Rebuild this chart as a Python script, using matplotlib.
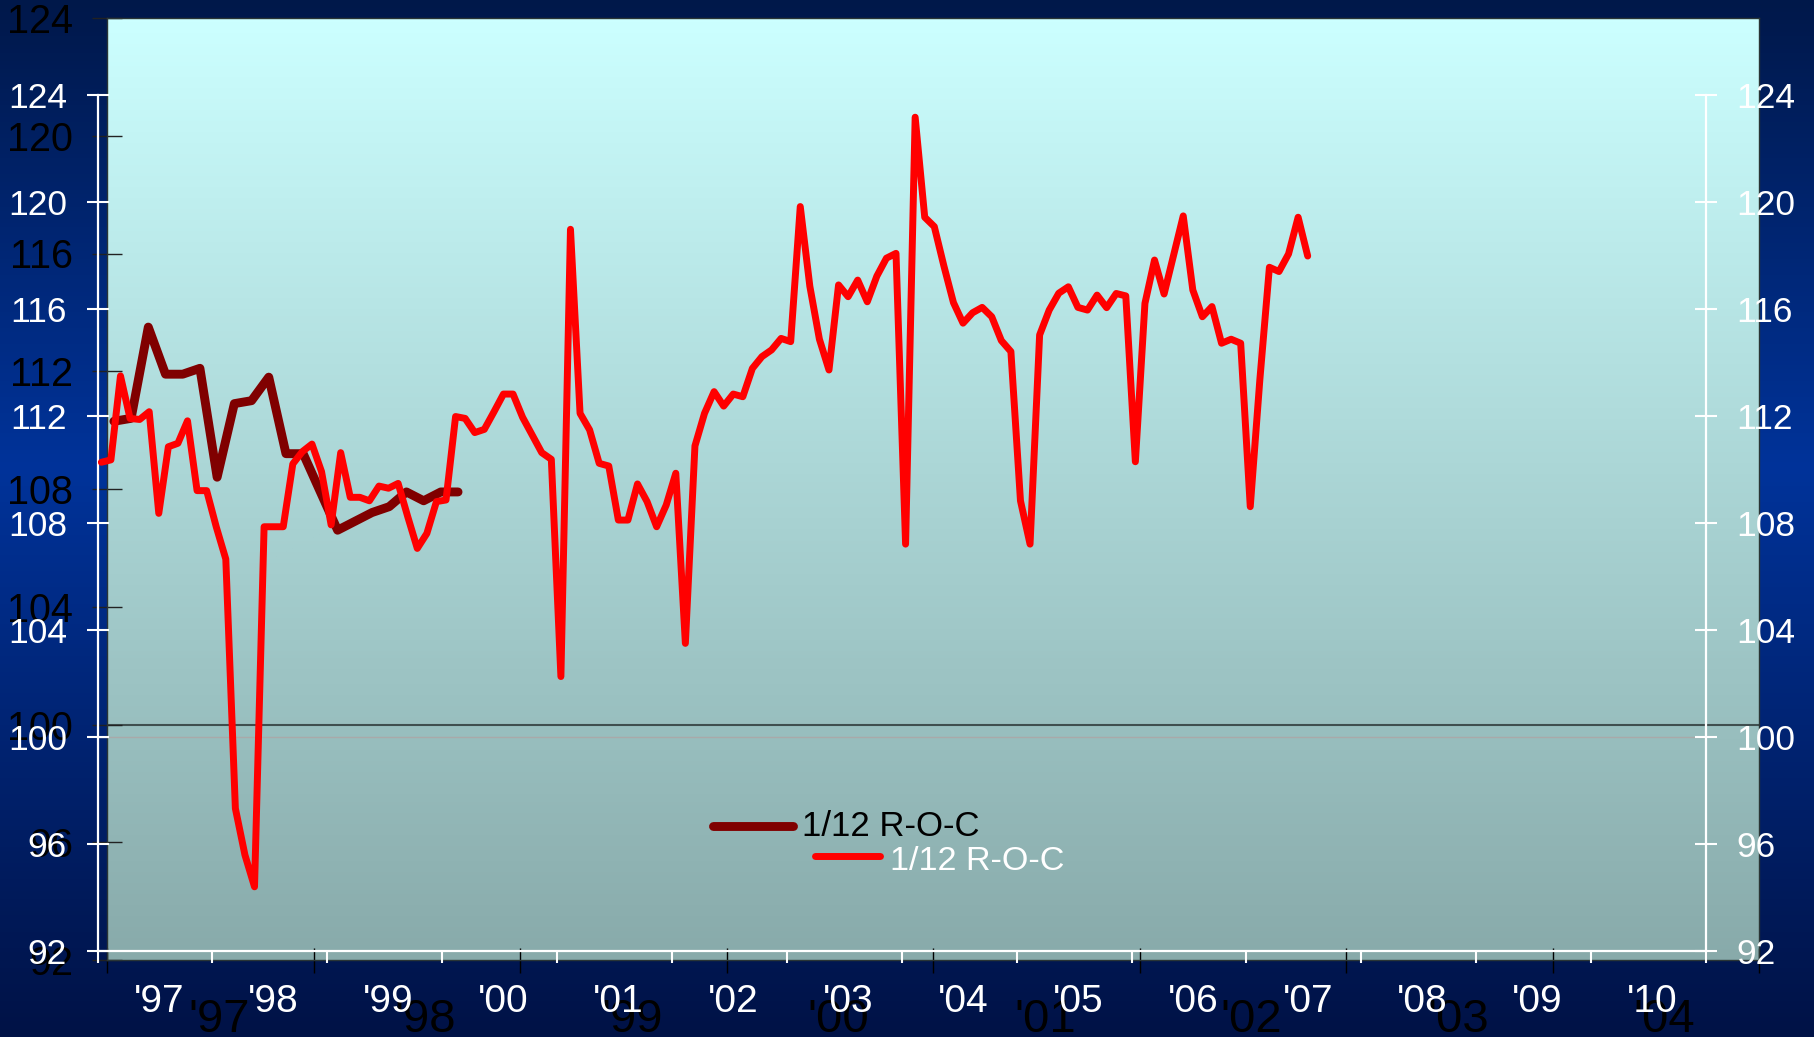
import numpy as np
import matplotlib
matplotlib.use("Agg")
import matplotlib.pyplot as plt
from matplotlib.lines import Line2D
from matplotlib.colors import LinearSegmentedColormap
from matplotlib.ticker import FixedLocator, NullFormatter, FixedFormatter

plt.rcParams['font.family'] = ['Liberation Sans', 'DejaVu Sans']

# ---------------- data ----------------
# Series 1 (dark red, back chart): monthly 1/12 R-O-C, Jan '97 .. Sep '98
roc_back = [110.3, 110.4, 113.5, 111.9, 111.9, 112.1, 108.4, 110.9, 111.0, 111.8,
            109.2, 109.2, 107.9, 106.6, 106.9, 107.2, 107.4, 107.9, 107.6, 107.9,
            107.9]
# Series 2 (red, front chart): monthly 1/12 R-O-C, Jan '97 .. Jul '07
roc_front = [110.27, 110.36, 113.5, 111.91, 111.87, 112.16, 108.36, 110.85, 110.98, 111.82,
             109.21, 109.21, 107.86, 106.65, 97.33, 95.59, 94.4, 107.86, 107.86, 107.86,
             110.21, 110.67, 110.95, 109.92, 107.93, 110.63, 108.96, 108.96, 108.83, 109.38,
             109.3, 109.48, 108.24, 107.05, 107.61, 108.8, 108.86, 111.98, 111.91, 111.38,
             111.5, 112.15, 112.82, 112.82, 111.95, 111.29, 110.63, 110.38, 102.26, 118.98,
             112.1, 111.48, 110.23, 110.13, 108.11, 108.11, 109.46, 108.8, 107.86, 108.67,
             109.86, 103.5, 110.88, 112.1, 112.91, 112.37, 112.82, 112.72, 113.78, 114.22,
             114.47, 114.9, 114.78, 119.83, 116.85, 114.87, 113.72, 116.9, 116.46, 117.08,
             116.27, 117.23, 117.9, 118.08, 107.21, 123.17, 119.43, 119.08, 117.61, 116.24,
             115.47, 115.86, 116.06, 115.71, 114.82, 114.41, 108.83, 107.21, 115.03, 115.96,
             116.59, 116.83, 116.06, 115.96, 116.52, 116.05, 116.58, 116.49, 110.29, 116.21,
             117.83, 116.56, 118.02, 119.48, 116.71, 115.71, 116.09, 114.72, 114.87, 114.72,
             108.61, 113.35, 117.56, 117.4, 118.06, 119.43, 117.98]
back_years = ["'97", "'98", "'99", "'00", "'01", "'02", "'03", "'04"]
front_years = ["'97", "'98", "'99", "'00", "'01", "'02", "'03", "'04", "'05", "'06",
               "'07", "'08", "'09", "'10"]
y_ticks = [92, 96, 100, 104, 108, 112, 116, 120, 124]
legend_label = "1/12 R-O-C"

W, H = 1814, 1037
fig = plt.figure(figsize=(W / 100, H / 100), dpi=100)

def fx(px):
    return px / W

def fy(py):
    return 1 - py / H

# figure background gradient
bg = fig.add_axes([0, 0, 1, 1], zorder=-10)
bg_cmap = LinearSegmentedColormap.from_list(
    "bg", [(0.0, "#00184A"), (0.45, "#00339A"), (1.0, "#001246")])
bg.imshow(np.linspace(0, 1, 256).reshape(-1, 1), aspect='auto', cmap=bg_cmap,
          extent=[0, 1, 0, 1], origin='upper')
bg.set_axis_off()

# ---------------- back chart (black axes) ----------------
ax_b = fig.add_axes([fx(107), fy(960), fx(1759) - fx(107), fy(18) - fy(960)])
pa_cmap = LinearSegmentedColormap.from_list("pa", ["#CCFFFF", "#88AAAA"])
ax_b.imshow(np.linspace(0, 1, 256).reshape(-1, 1), aspect='auto', cmap=pa_cmap,
            extent=[0, 1, 0, 1], origin='upper', transform=ax_b.transAxes, zorder=0)
nb = len(back_years) * 12
ax_b.set_xlim(0, nb)
ax_b.set_ylim(92, 124)
ax_b.axhline(100, color='#3F4F4F', lw=1.5, zorder=1)
xb = np.arange(len(roc_back)) + 0.4
ax_b.plot(xb, roc_back, color='#800000', lw=6.4, solid_joinstyle='round',
          solid_capstyle='round', zorder=3)
ax_b.xaxis.set_major_locator(FixedLocator(np.arange(0, nb + 1, 12)))
ax_b.xaxis.set_major_formatter(NullFormatter())
ax_b.xaxis.set_minor_locator(FixedLocator(np.arange(6.5, nb, 12)))
ax_b.xaxis.set_minor_formatter(FixedFormatter(back_years))
ax_b.set_yticks(y_ticks)
ax_b.set_yticklabels([str(v) for v in y_ticks])
ax_b.tick_params(axis='x', which='major', direction='inout', length=18, width=1,
                 color='black')
ax_b.tick_params(axis='x', which='minor', length=0, pad=27, labelsize=34,
                 labelcolor='black')
ax_b.tick_params(axis='y', direction='inout', length=21, width=1, color='#222222',
                 labelsize=28.5, labelcolor='black', pad=14)
for s in ax_b.spines.values():
    s.set_color('#2A3535')
    s.set_linewidth(1.0)

# ---------------- front chart (white axes) ----------------
ax_w = fig.add_axes([fx(97.5), fy(951), fx(1706) - fx(97.5), fy(95) - fy(951)])
ax_w.patch.set_visible(False)
nw = len(front_years) * 12
ax_w.set_xlim(0, nw)
ax_w.set_ylim(92, 124)
ax_w.axhline(100, color='#A9A9A9', lw=1.0, zorder=1)
xw = np.arange(len(roc_front)) + 0.4
ax_w.plot(xw, roc_front, color='#FF0000', lw=5.0, solid_joinstyle='round',
          solid_capstyle='round', zorder=3)
ax_w.xaxis.set_major_locator(FixedLocator(np.arange(0, nw + 1, 12)))
ax_w.xaxis.set_major_formatter(NullFormatter())
ax_w.xaxis.set_minor_locator(FixedLocator(np.arange(6.4, nw, 12)))
ax_w.xaxis.set_minor_formatter(FixedFormatter(front_years))
ax_w.set_yticks(y_ticks)
ax_w.set_yticklabels([str(v) for v in y_ticks])
ax_w.yaxis.set_ticks_position('both')
ax_w.tick_params(axis='x', which='major', direction='out', length=8.5, width=1.5,
                 color='white')
ax_w.tick_params(axis='x', which='minor', length=0, pad=24, labelsize=28,
                 labelcolor='white')
ax_w.tick_params(axis='y', direction='inout', length=16, width=1.5, color='white',
                 labelsize=25.5, labelcolor='white', pad=14, labelright=True)
ax_w.spines['top'].set_visible(False)
for k in ('left', 'right', 'bottom'):
    ax_w.spines[k].set_color('white')
    ax_w.spines[k].set_linewidth(1.6)

# ---------------- legends ----------------
fig.add_artist(Line2D([fx(713), fx(793)], [fy(826), fy(826)], color='#800000', lw=6.4,
                      solid_capstyle='round'))
fig.text(fx(802), fy(836), legend_label, color='black', fontsize=25, va='baseline',
         ha='left')
fig.add_artist(Line2D([fx(815), fx(880)], [fy(856), fy(856)], color='#FF0000', lw=5.0,
                      solid_capstyle='round'))
fig.text(fx(890), fy(870), legend_label, color='white', fontsize=24.6, va='baseline',
         ha='left')

fig.savefig("out.png", dpi=100)
